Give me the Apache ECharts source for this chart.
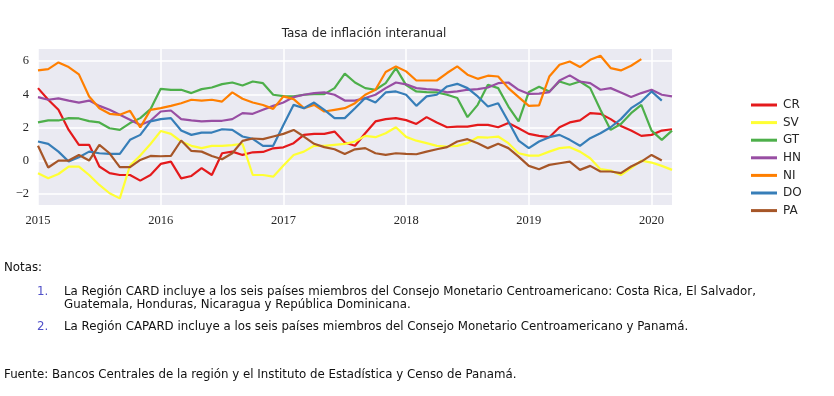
<!DOCTYPE html>
<html>
<head>
<meta charset="utf-8">
<script src="https://cdn.jsdelivr.net/npm/echarts@6/dist/echarts.min.js"></script>
<style>
html,body{margin:0;padding:0;background:#fff;}
#chart{width:834px;height:396px;}
</style>
</head>
<body>
<div id="chart"></div>
<script>
// Months 2015-01 .. 2020-03
const months = [];
for (let y = 2015; y <= 2020; y++) for (let m = 1; m <= 12; m++) { if (y === 2020 && m > 3) break; months.push(y + '-' + String(m).padStart(2, '0')); }
const yearTicks = ['2015', '2016', '2017', '2018', '2019', '2020'];
const yTicks = [-2, 0, 2, 4, 6];

const CR = [4.37,3.67,3.06,1.85,0.95,0.95,-0.36,-0.76,-0.87,-0.87,-1.21,-0.87,-0.2,-0.06,-1.07,-0.93,-0.46,-0.87,0.44,0.54,0.34,0.5,0.52,0.74,0.8,1.05,1.55,1.61,1.61,1.75,1.09,0.89,1.65,2.36,2.5,2.56,2.44,2.21,2.62,2.3,2.01,2.05,2.05,2.15,2.15,2.01,2.26,1.95,1.61,1.49,1.41,2.01,2.3,2.42,2.86,2.82,2.5,2.09,1.81,1.49,1.55,1.81,1.89];
const SV = [-0.76,-1.07,-0.81,-0.36,-0.36,-0.87,-1.47,-1.97,-2.28,-0.3,0.3,1.0,1.78,1.61,1.15,0.89,0.75,0.89,0.89,0.93,1.01,-0.87,-0.87,-0.97,-0.3,0.34,0.54,0.89,0.89,0.95,1.01,1.15,1.49,1.41,1.65,2.01,1.43,1.2,1.05,0.89,0.85,0.89,1.05,1.41,1.39,1.45,1.05,0.44,0.3,0.3,0.54,0.75,0.81,0.54,0.14,-0.52,-0.6,-0.87,-0.46,0.0,-0.12,-0.32,-0.56];
const GT = [2.3,2.42,2.42,2.56,2.54,2.38,2.3,1.95,1.85,2.26,2.56,3.1,4.33,4.27,4.27,4.07,4.31,4.41,4.61,4.71,4.53,4.77,4.67,3.97,3.89,3.87,3.97,4.01,4.01,4.37,5.24,4.71,4.37,4.27,4.67,5.58,4.55,4.17,4.13,4.11,3.97,3.77,2.62,3.36,4.57,4.37,3.26,2.36,4.14,4.45,4.17,4.77,4.57,4.77,4.37,3.06,1.85,2.21,2.86,3.36,1.81,1.25,1.81];
const HN = [3.83,3.67,3.75,3.62,3.5,3.62,3.3,3.06,2.76,2.46,2.15,2.4,2.96,3.02,2.5,2.42,2.36,2.4,2.4,2.5,2.86,2.82,3.06,3.3,3.5,3.83,3.97,4.07,4.11,3.97,3.62,3.62,3.77,3.97,4.37,4.71,4.6,4.37,4.31,4.27,4.11,4.17,4.27,4.31,4.41,4.67,4.71,4.27,4.02,4.04,4.13,4.83,5.14,4.77,4.67,4.27,4.37,4.11,3.83,4.07,4.27,3.97,3.87];
const NI = [5.44,5.52,5.92,5.64,5.2,3.87,3.16,2.82,2.76,3.0,2.0,3.06,3.16,3.3,3.46,3.67,3.62,3.67,3.56,4.11,3.73,3.5,3.35,3.12,3.87,3.71,3.16,3.36,2.96,3.06,3.16,3.46,3.97,4.27,5.34,5.68,5.38,4.83,4.83,4.83,5.28,5.68,5.18,4.93,5.12,5.07,4.37,3.83,3.3,3.33,5.07,5.78,5.98,5.64,6.08,6.32,5.58,5.44,5.72,6.12,null,null,null];
const DO = [1.15,1.01,0.54,-0.06,0.2,0.54,0.44,0.4,0.4,1.25,1.55,2.36,2.5,2.56,1.81,1.55,1.69,1.69,1.89,1.85,1.45,1.31,0.89,0.89,2.15,3.36,3.16,3.5,3.06,2.56,2.56,3.16,3.77,3.5,4.11,4.17,3.97,3.3,3.87,3.97,4.47,4.63,4.37,3.87,3.26,3.46,2.36,1.21,0.75,1.15,1.41,1.55,1.25,0.89,1.35,1.65,2.01,2.5,3.16,3.56,4.17,3.62,null];
const PA = [0.89,-0.42,0.0,0.0,0.34,0.0,0.95,0.44,-0.4,-0.4,0.04,0.28,0.26,0.28,1.21,0.58,0.54,0.28,0.08,0.44,1.19,1.33,1.29,1.45,1.61,1.85,1.45,1.01,0.81,0.68,0.4,0.68,0.75,0.44,0.34,0.44,0.4,0.38,0.54,0.68,0.81,1.15,1.29,1.05,0.75,1.01,0.75,0.24,-0.32,-0.52,-0.26,-0.16,-0.06,-0.56,-0.32,-0.66,-0.66,-0.76,-0.36,-0.06,0.34,0.0,null];

const seriesNames = ['CR', 'SV', 'GT', 'HN', 'NI', 'DO', 'PA'];
const seriesValues = [CR, SV, GT, HN, NI, DO, PA];
const colors = ['#e41a1c', '#ffff33', '#4daf4a', '#984ea3', '#ff7f00', '#377eb8', '#a65628'];

const title = 'Tasa de inflación interanual';
const notesHeader = 'Notas:';
const note1a = 'La Región CARD incluye a los seis países miembros del Consejo Monetario Centroamericano: Costa Rica, El Salvador,';
const note1b = 'Guatemala, Honduras, Nicaragua y República Dominicana.';
const note2 = 'La Región CAPARD incluye a los seis países miembros del Consejo Monetario Centroamericano y Panamá.';
const sourceText = 'Fuente: Bancos Centrales de la región y el Instituto de Estadística y Censo de Panamá.';

const yearIdx = yearTicks.map(y => months.indexOf(y + '-01'));

const chart = echarts.init(document.getElementById('chart'), null, { renderer: 'canvas' });
const noteFont = '"DejaVu Sans", sans-serif';
const noteSize = 11.8;
const option = {
  animation: false,
  backgroundColor: '#ffffff',
  title: {
    text: title, left: 359, top: 23, textAlign: 'center',
    textStyle: { fontFamily: '"DejaVu Sans", sans-serif', fontSize: 12, fontWeight: 'normal', color: '#262626' }
  },
  legend: {
    orient: 'vertical', left: 746, top: 94,
    itemWidth: 26, itemHeight: 3, itemGap: 5.6, icon: 'rect',
    textStyle: { fontFamily: '"DejaVu Sans", sans-serif', fontSize: 12, color: '#262626', padding: [0, 0, 0, 1] },
    data: seriesNames
  },
  grid: { left: 38, right: 162, top: 49, bottom: 191, show: true, backgroundColor: '#EAEAF2', borderWidth: 0, containLabel: false },
  xAxis: {
    type: 'value', min: 0, max: months.length - 1,
    axisLine: { show: false }, axisTick: { show: false, customValues: yearIdx },
    splitLine: { show: true, lineStyle: { color: '#ffffff', width: 1.5 } },
    axisLabel: {
      customValues: yearIdx, margin: 9,
      fontFamily: '"Liberation Serif", serif', fontSize: 12.5, color: '#262626',
      formatter: v => months[v] ? months[v].slice(0, 4) : ''
    }
  },
  yAxis: {
    type: 'value', min: -2.68, max: 6.73,
    axisLine: { show: false }, axisTick: { show: false, customValues: yTicks },
    splitLine: { show: true, lineStyle: { color: '#ffffff', width: 1.5 } },
    axisLabel: {
      customValues: yTicks, margin: 9,
      fontFamily: '"Liberation Serif", serif', fontSize: 12.5, color: '#262626',
      formatter: v => String(v).replace('-', '\u2212')
    }
  },
  series: seriesNames.map((n, i) => ({
    name: n, type: 'line', showSymbol: false, symbol: 'none',
    data: seriesValues[i].map((v, k) => [k, v]),
    lineStyle: { color: colors[i], width: 2.2 },
    itemStyle: { color: colors[i] },
    connectNulls: false
  })),
  graphic: [
    { type: 'text', left: 4, top: 262, style: { text: notesHeader, fontFamily: noteFont, fontSize: noteSize, fill: '#111' } },
    { type: 'text', left: 37, top: 286, style: { text: '1.', fontFamily: noteFont, fontSize: noteSize, fill: '#5050c8' } },
    { type: 'text', left: 64, top: 286, style: { text: note1a, fontFamily: noteFont, fontSize: noteSize, fill: '#111' } },
    { type: 'text', left: 64, top: 299, style: { text: note1b, fontFamily: noteFont, fontSize: noteSize, fill: '#111' } },
    { type: 'text', left: 37, top: 321, style: { text: '2.', fontFamily: noteFont, fontSize: noteSize, fill: '#5050c8' } },
    { type: 'text', left: 64, top: 321, style: { text: note2, fontFamily: noteFont, fontSize: noteSize, fill: '#111' } },
    { type: 'text', left: 4, top: 369, style: { text: sourceText, fontFamily: noteFont, fontSize: noteSize, fill: '#111' } }
  ]
};
chart.setOption(option);
</script>
</body>
</html>
